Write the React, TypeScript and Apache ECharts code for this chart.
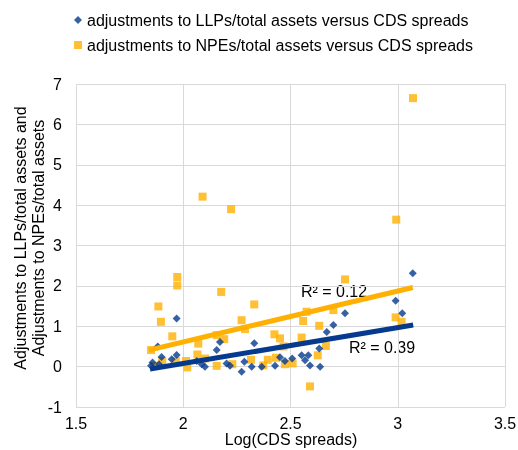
import React, { useEffect, useRef } from "react";
import * as echarts from "echarts";

const llpName = "adjustments to LLPs/total assets versus CDS spreads";
const npeName = "adjustments to NPEs/total assets versus CDS spreads";

const llpPoints: [number, number][] = [
  [1.850, 0.02], [1.857, 0.10], [1.881, 0.50], [1.887, 0.06], [1.899, 0.24],
  [1.946, 0.18], [1.969, 0.29], [1.969, 1.19], [2.063, 0.14], [2.086, 0.06],
  [2.101, 0.00], [2.156, 0.41], [2.171, 0.61], [2.202, 0.08], [2.218, 0.02],
  [2.272, -0.13], [2.285, 0.12], [2.319, 0.00], [2.331, 0.58], [2.366, 0.00],
  [2.428, 0.02], [2.451, 0.23], [2.474, 0.14], [2.508, 0.20], [2.552, 0.28],
  [2.568, 0.16], [2.583, 0.28], [2.591, 0.03], [2.638, 0.00], [2.634, 0.45],
  [2.669, 0.86], [2.700, 1.03], [2.754, 1.32], [2.990, 1.63], [3.021, 1.32],
  [3.070, 2.31],
];

const npePoints: [number, number][] = [
  [1.850, 0.41], [1.864, 0.02], [1.884, 1.49], [1.896, 1.11], [1.902, 0.14],
  [1.949, 0.75], [1.965, 0.14], [1.972, 2.22], [1.972, 2.01], [2.013, 0.14],
  [2.019, -0.02], [2.066, 0.30], [2.070, 0.57], [2.090, 4.21], [2.101, 0.20],
  [2.156, 0.78], [2.156, 0.02], [2.177, 1.85], [2.191, 0.68], [2.223, 3.90],
  [2.229, 0.06], [2.272, 1.15], [2.288, 0.93], [2.316, 0.17], [2.331, 1.54],
  [2.373, 0.03], [2.394, 0.17], [2.425, 0.80], [2.432, 0.22], [2.451, 0.70],
  [2.467, 0.50], [2.474, 0.06], [2.510, 0.08], [2.552, 0.72], [2.559, 1.13],
  [2.575, 1.36], [2.591, -0.49], [2.627, 0.28], [2.634, 1.01], [2.665, 0.51],
  [2.700, 1.40], [2.754, 2.16], [2.990, 1.22], [2.993, 3.64], [3.018, 1.11],
  [3.071, 6.65],
];

const llpTrend: [number, number][] = [[1.845, -0.06], [3.072, 1.03]];
const npeTrend: [number, number][] = [[1.84, 0.41], [3.07, 1.96]];

const xTicks = { min: 1.5, max: 3.5, interval: 0.5 };
const yTicks = { min: -1, max: 7, interval: 1 };

const r2Labels = ["R² = 0.12", "R² = 0.39"];
const yTitle = ["Adjustments to LLPs/total assets and", "Adjustments to NPEs/total assets"];
const xTitle = "Log(CDS spreads)";

const BLUE = "#053A8E";
const ORANGE = "#FFB000";
const FONT = "Liberation Sans, Arial, sans-serif";

export default function App() {
  const ref = useRef<HTMLDivElement>(null);
  useEffect(() => {
    if (!ref.current) return;
    const chart = echarts.init(ref.current, null, { renderer: "svg" });
    chart.setOption({
      animation: false,
      textStyle: { fontFamily: FONT },
      legend: {
        data: [
          { name: llpName, icon: "diamond", itemStyle: { color: BLUE } },
          { name: npeName, icon: "rect", itemStyle: { color: ORANGE } },
        ],
        orient: "vertical",
        left: 69,
        top: 7,
        itemWidth: 8,
        itemHeight: 8,
        itemGap: 9,
        textStyle: { fontSize: 16, color: "#000", fontFamily: FONT },
      },
      grid: { left: 76, right: 13, top: 84, bottom: 43, outerBoundsMode: "none", containLabel: false },
      xAxis: {
        type: "value",
        min: xTicks.min,
        max: xTicks.max,
        interval: xTicks.interval,
        axisLine: { show: false },
        axisTick: { show: false },
        axisLabel: { fontSize: 16, color: "#000", margin: 8, fontFamily: FONT },
        splitLine: { show: true, lineStyle: { color: "#D9D9D9", width: 1 } },
      },
      yAxis: {
        type: "value",
        min: yTicks.min,
        max: yTicks.max,
        interval: yTicks.interval,
        axisLine: { show: false },
        axisTick: { show: false },
        axisLabel: { fontSize: 16, color: "#000", margin: 14, fontFamily: FONT },
        splitLine: { show: true, lineStyle: { color: "#D9D9D9", width: 1 } },
      },
      series: [
        {
          name: llpName,
          type: "scatter",
          data: llpPoints,
          symbol: "diamond",
          symbolSize: 8,
          itemStyle: { color: BLUE },
          z: 3,
        },
        {
          name: npeName,
          type: "scatter",
          data: npePoints,
          symbol: "rect",
          symbolSize: 8,
          itemStyle: { color: ORANGE },
          z: 2,
        },
        {
          name: "npeTrend",
          type: "line",
          data: npeTrend,
          showSymbol: false,
          symbol: "none",
          lineStyle: { color: ORANGE, width: 5 },
          z: 4,
        },
        {
          name: "llpTrend",
          type: "line",
          data: llpTrend,
          showSymbol: false,
          symbol: "none",
          lineStyle: { color: BLUE, width: 5 },
          z: 5,
        },
      ],
      graphic: [
        {
          type: "text",
          x: 29,
          y: 238,
          rotation: Math.PI / 2,
          style: {
            text: yTitle.join("\n"),
            fontSize: 16,
            lineHeight: 18,
            fill: "#000",
            fontFamily: FONT,
            align: "center",
            verticalAlign: "middle",
          },
        },
        {
          type: "text",
          x: 291,
          y: 439,
          style: {
            text: xTitle,
            fontSize: 16,
            fill: "#000",
            fontFamily: FONT,
            align: "center",
            verticalAlign: "middle",
          },
        },
        {
          type: "text",
          x: 334,
          y: 291,
          style: {
            text: r2Labels[0],
            fontSize: 16,
            fill: "#000",
            fontFamily: FONT,
            align: "center",
            verticalAlign: "middle",
          },
        },
        {
          type: "text",
          x: 382,
          y: 347,
          style: {
            text: r2Labels[1],
            fontSize: 16,
            fill: "#000",
            fontFamily: FONT,
            align: "center",
            verticalAlign: "middle",
          },
        },
      ],
    });
    return () => chart.dispose();
  }, []);
  return (
    <div
      ref={ref}
      style={{ position: "fixed", left: 0, top: 0, width: 518, height: 450 }}
    />
  );
}
